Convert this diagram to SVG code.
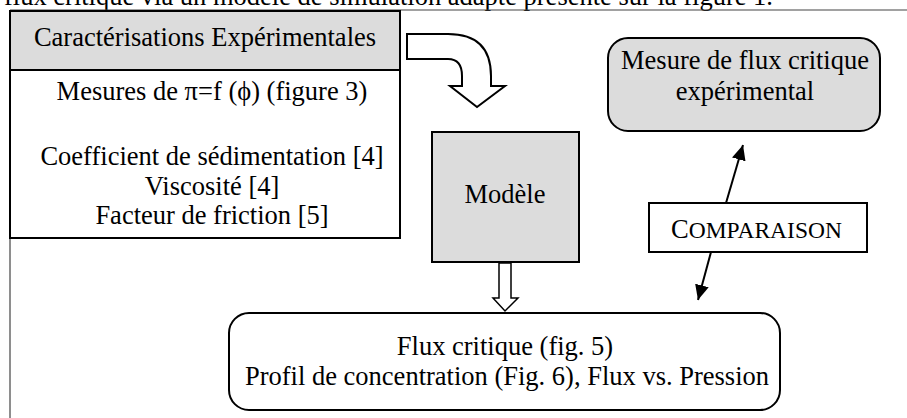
<svg xmlns="http://www.w3.org/2000/svg" width="907" height="418" viewBox="0 0 907 418">
<style>
text{font-family:"Liberation Serif","Times New Roman","DejaVu Serif",serif;font-size:26.5px;fill:#000}
.c{text-anchor:middle}
.box{stroke:#000;stroke-width:2}
.gray{fill:#dcdcdc}
.white{fill:#fff}
.page{stroke:#444;stroke-width:1.2;fill:none}
.line{stroke:#000;stroke-width:2;fill:none}
</style>
<defs>
<marker id="ah" viewBox="0 0 15 14" refX="15" refY="7" markerWidth="15" markerHeight="14" markerUnits="userSpaceOnUse" orient="auto">
<path d="M0,0 L15,7 L0,14 z" fill="#000"/>
</marker>
</defs>
<text x="4" y="5" font-size="27">flux critique via un modèle de simulation adapté présenté sur la figure 1.</text>
<path class="page" d="M10,10 H907 M10,10 V418"/>
<g id="caracterisations">
<rect class="box white" x="10" y="70" width="390" height="168"/>
<rect class="box gray" x="10" y="11" width="390" height="59"/>
<text class="c" x="205" y="46">Caractérisations Expérimentales</text>
<text class="c" x="212" y="100">Mesures de π=f (ϕ) (figure 3)</text>
<text class="c" x="212" y="165">Coefficient de sédimentation [4]</text>
<text class="c" x="212" y="195">Viscosité [4]</text>
<text class="c" x="212" y="224">Facteur de friction [5]</text>
</g>
<g id="modele">
<rect class="box gray" x="432" y="132" width="147" height="130"/>
<text class="c" x="505" y="203">Modèle</text>
</g>
<g id="mesure">
<rect class="box gray" x="608" y="38" width="272" height="93" rx="20" ry="20"/>
<text class="c" x="745" y="69">Mesure de flux critique</text>
<text class="c" x="745" y="100">expérimental</text>
</g>
<g id="comparaison">
<rect class="box white" x="649" y="203" width="218" height="49"/>
<text x="671" y="238">C<tspan font-size="23.5">OMPARAISON</tspan></text>
</g>
<g id="flux">
<rect class="box white" x="229" y="313" width="551" height="97" rx="20" ry="20"/>
<text class="c" x="505" y="355">Flux critique (fig. 5)</text>
<text class="c" x="507" y="385">Profil de concentration (Fig. 6), Flux vs. Pression</text>
</g>
<g id="connectors">
<path class="box white" d="M407,34 L448,34 Q491,34 491,76 L491,86 L505,86 L477,107 L450,86 L462,86 L462,76 Q462,59 448,59 L407,59 Z"/>
<path class="white" stroke="#000" stroke-width="1.5" d="M499,263 L511,263 L511,298 L518,298 L505,311 L493,298 L499,298 Z"/>
<line class="line" x1="726" y1="203" x2="743" y2="145" marker-end="url(#ah)"/>
<line class="line" x1="711" y1="252" x2="698" y2="300" marker-end="url(#ah)"/>
</g>
</svg>
